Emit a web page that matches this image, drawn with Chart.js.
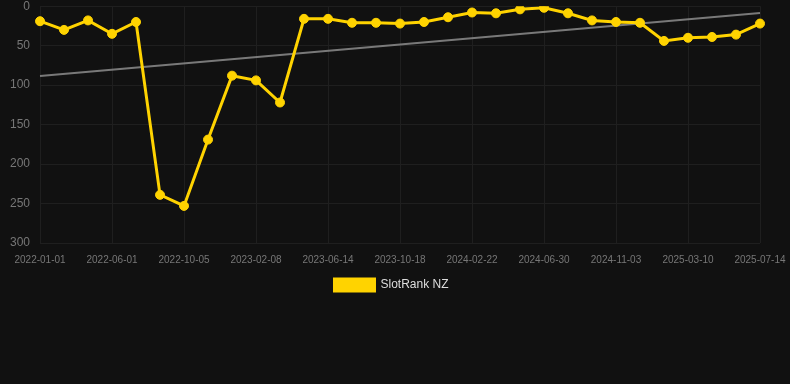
<!DOCTYPE html>
<html>
<head>
<meta charset="utf-8">
<script src="https://cdn.jsdelivr.net/npm/chart.js@4"></script>
<style>
  html, body { margin: 0; padding: 0; background: #111111; overflow: hidden; }
  #wrap { position: relative; width: 790px; height: 312px; margin-top: -11px; }
</style>
</head>
<body>
<div id="wrap"><canvas id="rankChart"></canvas></div>
<script>
// Data
var dates = [
    "2022-01-01", "2022-02-20", "2022-04-11", "2022-06-01", "2022-07-13", "2022-08-24",
    "2022-10-05", "2022-11-16", "2022-12-28", "2023-02-08", "2023-03-22", "2023-05-03",
    "2023-06-14", "2023-07-26", "2023-09-06", "2023-10-18", "2023-11-29", "2024-01-10",
    "2024-02-22", "2024-04-05", "2024-05-18", "2024-06-30", "2024-08-11", "2024-09-22",
    "2024-11-03", "2024-12-15", "2025-01-26", "2025-03-10", "2025-04-21", "2025-06-02",
    "2025-07-14"
]
var ranks = [
    19, 30, 18, 35, 20, 239, 253, 169, 88, 94, 122, 16,
    16, 21, 21, 22, 20, 14, 8, 9, 4, 2, 9, 18,
    20, 21, 44, 40, 39, 36, 22
]
var trendStart = 88.5
var trendEnd = 8.5
var yTicks = [0, 50, 100, 150, 200, 250, 300]

var trend = dates.map(function (d, i) {
    if (i == 0) return trendStart
    if (i == dates.length - 1) return trendEnd
    return null
})

// Chart
var ctx = document.getElementById('rankChart').getContext('2d');
var myChart = new Chart(ctx, {
    type: 'line',
    data: {
        labels: dates,
        datasets: [{
            label: 'SlotRank NZ',
            data: ranks,
            borderColor: '#FFD300',
            backgroundColor: '#FFD300',
            borderWidth: 3,
            pointRadius: 4.5,
            pointBorderWidth: 1,
            pointHoverRadius: 4.5,
            tension: 0
        }, {
            label: 'trend',
            data: trend,
            spanGaps: true,
            borderColor: 'rgba(140,140,140,0.85)',
            borderWidth: 2,
            pointRadius: 0,
            tension: 0
        }]
    },
    options: {
        responsive: true,
        maintainAspectRatio: false,
        animation: false,
        layout: { padding: { right: 7, top: 0 } },
        scales: {
            x: {
                afterFit: function (axis) { axis.paddingRight = 30 },
                grid: { color: '#1f1f1f', drawTicks: false },
                border: { display: false },
                ticks: {
                    color: '#777777',
                    font: { family: 'Liberation Sans, Arial', size: 10 },
                    maxRotation: 0,
                    autoSkip: true,
                    maxTicksLimit: 11,
                    padding: 11
                }
            },
            y: {
                reverse: true,
                min: 0,
                max: 300,
                afterBuildTicks: function (axis) {
                    axis.ticks = yTicks.map(function (v) { return { value: v } })
                },
                grid: { color: '#1f1f1f', drawTicks: false },
                border: { display: false },
                ticks: {
                    color: '#777777',
                    font: { family: 'Liberation Sans, Arial', size: 12 },
                    padding: 10
                }
            }
        },
        plugins: {
            legend: {
                position: 'bottom',
                labels: {
                    color: '#dddddd',
                    font: { family: 'Liberation Sans, Arial', size: 12 },
                    boxWidth: 40,
                    boxHeight: 12,
                    padding: 2,
                    filter: function (item) { return item.text != 'trend' }
                }
            },
            tooltip: { enabled: false }
        }
    }
});
</script>
</body>
</html>
